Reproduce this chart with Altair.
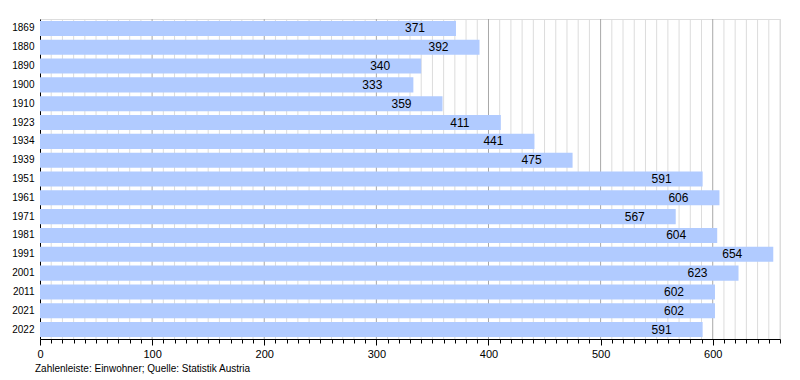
import altair as alt
import pandas as pd

years = ["1869", "1880", "1890", "1900", "1910", "1923", "1934", "1939", "1951",
         "1961", "1971", "1981", "1991", "2001", "2011", "2021", "2022"]
population = [371, 392, 340, 333, 359, 411, 441, 475, 591, 606, 567, 604, 654,
              623, 602, 602, 591]
tick_values = list(range(0, 661, 10))
footer = "Zahlenleiste: Einwohner; Quelle: Statistik Austria"

df = pd.DataFrame({"year": years, "pop": population})
grid_df = pd.DataFrame({"v": tick_values[1:]})

FONT = "Liberation Sans"

x_scale = alt.Scale(domain=[0, 660], nice=False, zero=True)

grid = alt.Chart(grid_df).mark_rule(strokeWidth=1).encode(
    x=alt.X("v:Q", scale=x_scale),
    color=alt.condition("datum.v % 100 === 0", alt.value("#a8a8a8"), alt.value("#dcdcdc")),
)

bars = alt.Chart(df).mark_bar(color="#b1cbff").encode(
    x=alt.X("pop:Q", scale=x_scale,
            axis=alt.Axis(values=tick_values, tickCount=200, title=None, domainColor="black",
                          tickColor="black", labelFont=FONT, labelFontSize=11,
                          labelColor="black", labelPadding=3, grid=False,
                          labelOverlap=False,
                          labelExpr="datum.value % 100 === 0 ? datum.label : ''",
                          tickSize={"condition": {"test": "datum.value % 100 === 0", "value": 6}, "value": 4},
                          labelFlush=False)),
    y=alt.Y("year:N", sort=None,
            scale=alt.Scale(paddingInner=0.2, paddingOuter=0.1),
            axis=alt.Axis(title=None, ticks=False, domainColor="black",
                          labelFont=FONT, labelFontSize=10, labelColor="black",
                          labelPadding=6, grid=False)),
)

labels = alt.Chart(df).mark_text(font=FONT, fontSize=12, color="black",
                                 align="center", baseline="middle", dx=-41).encode(
    x=alt.X("pop:Q", scale=x_scale),
    y=alt.Y("year:N", sort=None),
    text="pop:Q",
)

foot = alt.Chart(pd.DataFrame({"t": [footer]})).mark_text(
    font=FONT, fontSize=10, color="black", align="left", baseline="middle"
).encode(text="t:N", x=alt.value(-5), y=alt.value(350))

chart = alt.layer(grid, bars, labels, foot).properties(
    width=740, height=320,
    autosize=alt.AutoSizeParams(type="none"),
    padding={"left": 32, "top": 11, "right": 12, "bottom": 40},
).configure_view(stroke=None).configure(background="white")

chart.save("out.html", embed_options={"renderer": "svg", "actions": False})
